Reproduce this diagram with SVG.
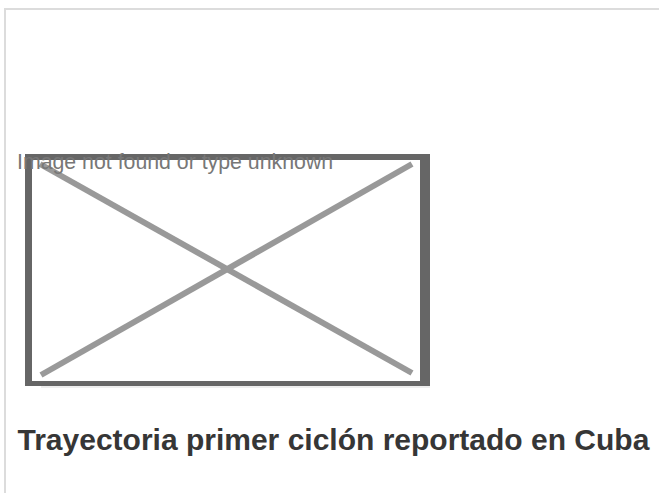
<svg xmlns="http://www.w3.org/2000/svg" width="659" height="493" viewBox="0 0 659 493">
<style>
.frame{fill:#dcdcdc}
.diag{stroke:#999;stroke-width:6;stroke-linecap:butt}
.alt{font-family:"Liberation Sans",Arial,sans-serif;font-size:21.3px;fill:#777}
.title{font-family:"Liberation Sans",Arial,sans-serif;font-size:30px;font-weight:bold;fill:#363636}
</style>
<rect width="659" height="493" fill="#fff"/>
<g id="page-border">
<rect class="frame" x="4" y="8" width="655" height="2"/>
<rect class="frame" x="4" y="8" width="2" height="485"/>
</g>
<g id="placeholder">
<path d="M25 154H430V386H25Z M32 160V381H420V160Z" fill="#666" fill-rule="evenodd"/>
<line x1="41" y1="387" x2="430" y2="387" stroke="#ddd" stroke-width="1"/>
<line class="diag" x1="40" y1="164" x2="412" y2="373"/>
<line class="diag" x1="41" y1="375" x2="412" y2="164"/>
<text class="alt" x="17" y="169">Image not found or type unknown</text>
</g>
<g id="caption">
<text class="title" x="17.5" y="450">Trayectoria primer ciclón reportado en Cuba</text>
</g>
</svg>
